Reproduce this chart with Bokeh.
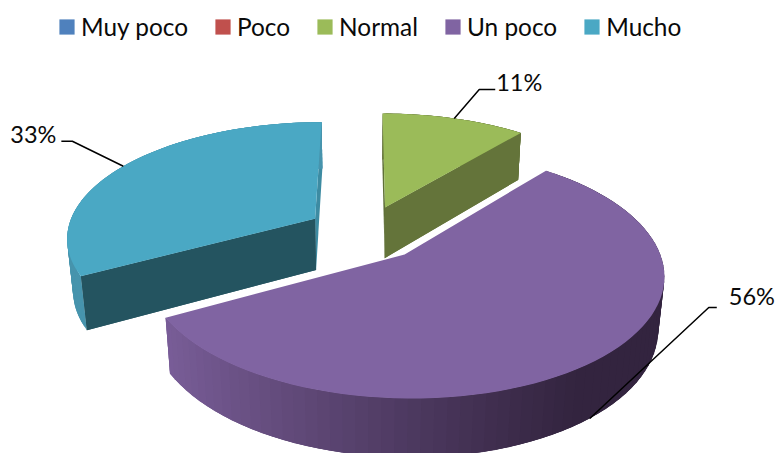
import numpy as np
from bokeh.embed import file_html
from bokeh.resources import INLINE
from bokeh.plotting import figure
from bokeh.models import Range1d, Legend, LegendItem
from bokeh.core.properties import value

categories = ["Muy poco", "Poco", "Normal", "Un poco", "Mucho"]
shares = [0, 0, 11, 56, 33]
tops = ["#4f81bd", "#c0504d", "#9bbb59", "#8064a2", "#4aa8c4"]
radial_colors = [None, None, "#64743a", None, "#245460"]
end_colors = [None, None, "#5f7038", None, "#3d8ba2"]
outer_colors = [None, None, "#64743a", None, "#4794ad"]

W, H = 776, 453
GX, GY = 365.0, 232.0
RX, RY = 248.5, 115.0
K = 0.151
EXPLODE = 0.24
DEPTH = 53.0
M = 0.02
FONT = "Lato"


def project(u, v, bottom=False):
    u, v = np.asarray(u, float), np.asarray(v, float)
    d = 1 + K * v + (M if bottom else 0.0)
    y = (RY * v - (DEPTH if bottom else 0.0)) / d
    return GX + RX * u / d, GY - y


def mix(c1, c2, t):
    a = [int(c1[i:i + 2], 16) for i in (1, 3, 5)]
    b = [int(c2[i:i + 2], 16) for i in (1, 3, 5)]
    return "#%02x%02x%02x" % tuple(round(p + (q - p) * t) for p, q in zip(a, b))


p = figure(width=W, height=H, output_backend="svg", toolbar_location=None,
           x_range=Range1d(0, W), y_range=Range1d(H, 0), margin=0,
           min_border=0)
p.axis.visible = False
p.grid.visible = False
p.outline_line_color = None
p.background_fill_color = "white"

total = sum(shares)
items = []
start = 0.0
labels = []
for name, share, top, rad_c, end_c, out_c in zip(categories, shares, tops, radial_colors, end_colors, outer_colors):
    a0 = start
    a1 = start + 2 * np.pi * share / total
    start = a1
    if share == 0:
        r = p.patch(x=[GX, GX], y=[GY, GY], fill_color=top, line_color=None)
        items.append(LegendItem(label=name, renderers=[r]))
        continue
    mid = (a0 + a1) / 2
    ox, oy = EXPLODE * np.sin(mid), EXPLODE * np.cos(mid)
    th = np.linspace(a0, a1, 81)
    U, V = ox + np.sin(th), oy + np.cos(th)
    tx, ty = project(U, V)
    bx, by = project(U, V, True)
    ax, ay = project(ox, oy)
    abx, aby = project(ox, oy, True)

    # radial walls (hidden ones fall under the top face)
    if rad_c:
        p.patch(x=[float(ax), tx[-1], bx[-1], float(abx)], y=[float(ay), ty[-1], by[-1], float(aby)],
                fill_color=end_c if name == "Mucho" else rad_c, line_color=None)
        p.patch(x=[float(ax), tx[0], bx[0], float(abx)], y=[float(ay), ty[0], by[0], float(aby)],
                fill_color=rad_c if name == "Mucho" else end_c, line_color=None)
    # rim, as overlapping shaded quads so no seams appear
    n = len(th)
    order = range(n - 1) if name != "Un poco" else range(n - 2, -1, -1)
    for i in order:
        col = out_c
        if not col:
            t = float(np.clip((tx[i] - 170) / 430, 0, 1))
            col = mix("#7a5e99", "#33243f", t)
        k = min(i + 3, n - 1)
        p.patch(x=[tx[i], tx[k], bx[k], bx[i]], y=[ty[i], ty[k], by[k], by[i]],
                fill_color=col, line_color=None)
    if rad_c:
        j = 0 if name == "Mucho" else -1
        p.patch(x=[float(ax), tx[j], bx[j], float(abx)], y=[float(ay), ty[j], by[j], float(aby)],
                fill_color=rad_c, line_color=None)
    r = p.patch(x=np.r_[float(ax), tx], y=np.r_[float(ay), ty], fill_color=top, line_color=None)
    items.append(LegendItem(label=name, renderers=[r]))

    mu, mv = ox + np.sin(mid), oy + np.cos(mid)
    sx, sy = project(mu, mv, bottom=(name == "Un poco"))
    sx, sy = float(sx), float(sy)
    txt = f"{share}%"
    if name == "Normal":
        lx = [sx, sx + 25, sx + 41]; ly = [sy, sy - 29, sy - 29]
        tpos = (sx + 42, sy - 36, "left")
    elif name == "Un poco":
        lx = [sx, sx + 119, sx + 127]; ly = [sy, sy - 111, sy - 111]
        tpos = (sx + 139, sy - 122, "left")
    else:
        lx = [sx, sx - 51, sx - 62]; ly = [sy, sy - 25, sy - 25]
        tpos = (sx - 67, sy - 32, "right")
    p.line(lx, ly, line_color="black", line_width=1.5)
    labels.append((tpos, txt))

for (x, y, al), txt in labels:
    p.text([x], [y], text=[txt], text_font=value(FONT), text_font_size="23.5px",
           text_align=al, text_baseline="middle", text_color="#0a0a0a")

legend = Legend(items=items, orientation="horizontal", location=(57, H - 41),
                spacing=25, glyph_width=19, glyph_height=19, label_standoff=5,
                label_text_font=FONT, label_text_font_size="24.4px", label_text_color="#0a0a0a",
                background_fill_alpha=0, border_line_color=None, margin=0, padding=0)
p.add_layout(legend, "center")

open("out.html", "w").write(file_html(p, INLINE))
